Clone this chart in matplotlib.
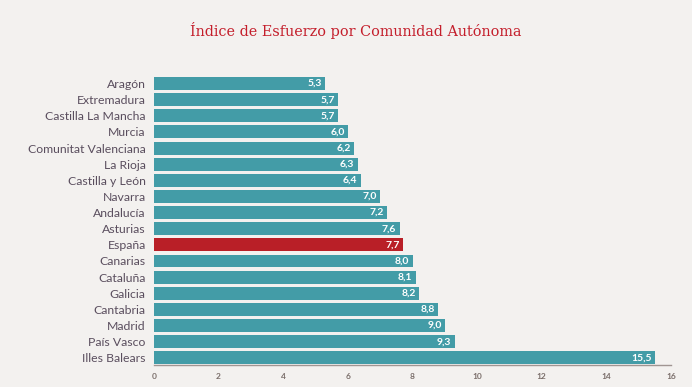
import matplotlib
matplotlib.use("Agg")
import matplotlib.pyplot as plt

# datos
regiones = ["Aragón", "Extremadura", "Castilla La Mancha", "Murcia",
            "Comunitat Valenciana", "La Rioja", "Castilla y León", "Navarra",
            "Andalucía", "Asturias", "España", "Canarias", "Cataluña",
            "Galicia", "Cantabria", "Madrid", "País Vasco", "Illes Balears"]
valores = [5.3, 5.7, 5.7, 6.0, 6.2, 6.3, 6.4, 7.0, 7.2, 7.6, 7.7, 8.0,
           8.1, 8.2, 8.8, 9.0, 9.3, 15.5]
ticks_x = [0, 2, 4, 6, 8, 10, 12, 14, 16]

fondo = "#f3f1ef"
teal = "#439ca7"
rojo = "#b91f27"

plt.rcParams['font.family'] = ['Lato', 'DejaVu Sans']

fig = plt.figure(figsize=(6.92, 3.87), dpi=100, facecolor=fondo)
ax = fig.add_axes([0.2225, 0.0568, 0.9697 - 0.2225, 0.805 - 0.0568])
ax.set_facecolor(fondo)

colores = [rojo if r == "España" else teal for r in regiones]
pos = range(len(regiones))
ax.barh(pos, valores, height=0.8, color=colores)

# etiquetas de valor dentro de la barra
for i, v in enumerate(valores):
    ax.text(v - 0.1, i, f"{v:.1f}".replace(".", ","), ha="right", va="center",
            color="white", fontsize=7.5, fontweight="bold")

ax.set_ylim(17.45, -0.5)
ax.set_xlim(0, 16)
ax.set_yticks(list(pos))
ax.set_yticklabels(regiones, fontsize=8.8, color="#5a4e5e")
ax.set_xticks(ticks_x)
ax.set_xticklabels([str(t) for t in ticks_x], fontsize=6, color="#7a6e6a",
                   fontweight="bold")
ax.tick_params(axis="both", length=0)
ax.tick_params(axis="y", pad=6)
ax.tick_params(axis="x", pad=6)

for s in ["top", "right", "left"]:
    ax.spines[s].set_visible(False)
ax.spines["bottom"].set_color("#a09592")
ax.spines["bottom"].set_linewidth(1)

fig.text(0.514, 0.922, "Índice de Esfuerzo por Comunidad Autónoma", ha="center",
         va="center", fontsize=10.4, color="#c41e2b", family=["DejaVu Serif"])

fig.savefig("out.png", dpi=100, facecolor=fondo)
